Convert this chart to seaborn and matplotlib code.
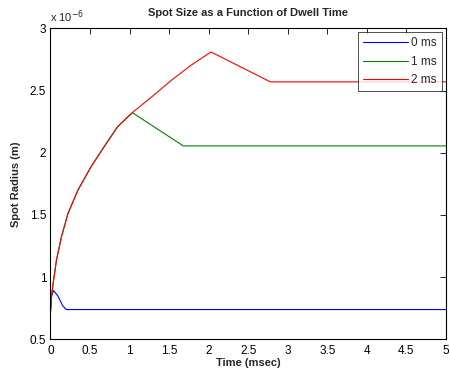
import matplotlib
matplotlib.use("Agg")
import matplotlib.pyplot as plt
import numpy as np
import pandas as pd
import seaborn as sns

# values (radius in units of 1e-6 m)
t_red = [0.0, 0.015, 0.035, 0.077, 0.14, 0.223, 0.348, 0.515, 0.68, 0.85,
         1.035, 1.285, 1.535, 1.785, 2.03, 2.78, 5.0]
r_red = [0.715, 0.85, 0.952, 1.139, 1.326, 1.514, 1.70, 1.889, 2.05, 2.21,
         2.323, 2.452, 2.586, 2.707, 2.81, 2.57, 2.57]

t_green = [0.0, 0.015, 0.035, 0.077, 0.14, 0.223, 0.348, 0.515, 0.68, 0.85,
           1.035, 1.68, 5.0]
r_green = [0.715, 0.85, 0.952, 1.139, 1.326, 1.514, 1.70, 1.889, 2.05, 2.21,
           2.323, 2.055, 2.055]

t_blue = [0.0, 0.015, 0.04, 0.094, 0.156, 0.2, 5.0]
r_blue = [0.715, 0.85, 0.892, 0.85, 0.77, 0.74, 0.74]

series = ["0 ms", "1 ms", "2 ms"]
colors = ["#0000ff", "#008000", "#ff0000"]

df = pd.concat([
    pd.DataFrame({"t": t_blue, "r": r_blue, "dwell": series[0]}),
    pd.DataFrame({"t": t_green, "r": r_green, "dwell": series[1]}),
    pd.DataFrame({"t": t_red, "r": r_red, "dwell": series[2]}),
], ignore_index=True)

sns.set_style("white")
plt.rcParams["font.family"] = ["Liberation Sans", "DejaVu Sans"]
plt.rcParams["xtick.direction"] = "in"
plt.rcParams["ytick.direction"] = "in"

fig = plt.figure(figsize=(4.5, 3.73), dpi=100)
ax = fig.add_axes([0.112, 0.09, 0.879, 0.834])

sns.lineplot(data=df, x="t", y="r", hue="dwell", palette=colors,
             estimator=None, sort=False, linewidth=0.8, ax=ax)

ax.set_xlim(0, 5)
ax.set_ylim(0.5, 3)
ax.set_xticks(np.arange(0, 5.01, 0.5))
ax.set_xticklabels(["0", "0.5", "1", "1.5", "2", "2.5", "3", "3.5", "4", "4.5", "5"])
ax.set_yticks(np.arange(0.5, 3.01, 0.5))
ax.set_yticklabels(["0.5", "1", "1.5", "2", "2.5", "3"])
ax.tick_params(axis="both", labelsize=8.5, length=4, width=0.6,
               top=True, right=True, colors="black")
ax.tick_params(axis="x", pad=4)
ax.tick_params(axis="y", pad=3)
for s in ax.spines.values():
    s.set_linewidth(0.8)
    s.set_color("black")

ax.set_title("Spot Size as a Function of Dwell Time", fontsize=8,
             fontweight="bold", pad=9)
ax.set_xlabel("Time (msec)", fontsize=8, fontweight="bold", labelpad=1)
ax.set_ylabel("Spot Radius (m)", fontsize=8, fontweight="bold", labelpad=6)
ax.text(0.0, 1.012, r"x 10$^{-6}$", transform=ax.transAxes, fontsize=8,
        ha="left", va="bottom")

leg = ax.legend(loc="upper right", fontsize=8.5, handlelength=3.8,
                frameon=True, fancybox=False, borderaxespad=0.35,
                labelspacing=0.55, handletextpad=0.3, borderpad=0.4)
leg.get_frame().set_edgecolor("black")
leg.get_frame().set_linewidth(0.6)

fig.savefig("out.png", dpi=100)
